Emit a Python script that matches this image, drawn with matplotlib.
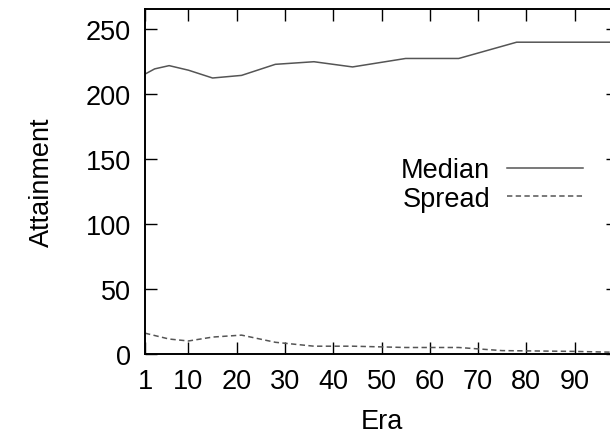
import matplotlib
matplotlib.use("Agg")
import matplotlib.pyplot as plt

plt.rcParams['font.family'] = ['Liberation Sans', 'DejaVu Sans']

# datos
era_med = [1, 3, 6, 10, 15, 21, 28, 36, 44, 55, 66, 78, 90, 100]
median = [215, 219, 221.5, 218, 212, 214, 222.5, 224.5, 220.5, 227, 227, 239.5, 239.5, 239.5]
era_spr = [1, 6, 10, 15, 21, 28, 36, 44, 55, 66, 75, 90, 100]
spread = [16, 11.5, 10, 13, 14.5, 9, 6, 6, 5, 5, 2.6, 2, 1.2]

fs = 19.5

fig = plt.figure(figsize=(6.1, 4.35), dpi=100)
ax = fig.add_axes([145/610, 80/435, 473/610, 345/435])

ax.plot(era_med, median, color='#555555', lw=1.1, label='Median')
ax.plot(era_spr, spread, color='#555555', lw=1.1, ls=(0, (3.5, 2.2)), label='Spread')

ax.set_xlim(1, 99)
ax.set_ylim(0, 265)
ax.set_xticks([1, 10, 20, 30, 40, 50, 60, 70, 80, 90])
ax.set_yticks([0, 50, 100, 150, 200, 250])
ax.tick_params(direction='in', length=8.5, width=1, top=True, right=True,
               labelsize=fs, pad=10)
for s in ax.spines.values():
    s.set_linewidth(1.4)

ax.set_xlabel('Era', fontsize=fs, labelpad=10)
ax.set_ylabel('Attainment', fontsize=fs, labelpad=22)

ax.legend(loc='center right', bbox_to_anchor=(0.926, 0.491), frameon=False,
          markerfirst=False, fontsize=fs, handlelength=2.8, borderpad=0,
          borderaxespad=0, labelspacing=0.1, handletextpad=0.63)

fig.savefig('out.png', dpi=100)
